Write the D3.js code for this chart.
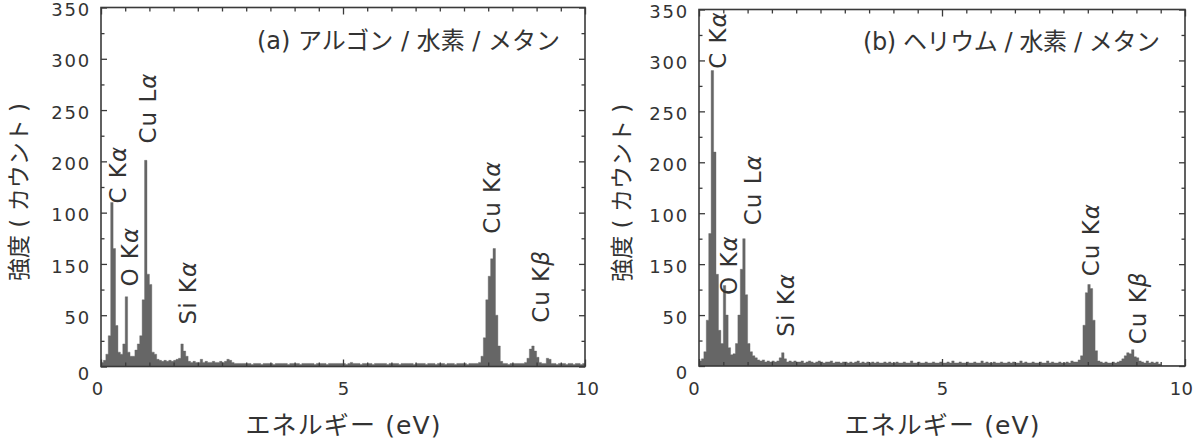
<!DOCTYPE html>
<html><head><meta charset="utf-8">
<script src="https://cdn.jsdelivr.net/npm/d3@7/dist/d3.min.js"></script>
<style>
body{margin:0;background:#fff;}
svg text{fill:#333333;font-family:"DejaVu Sans","Noto Sans CJK JP",sans-serif;}
</style></head><body>
<svg id="chart" width="1195" height="445"></svg>
<script>
// ---- data ----
const binWidth = 0.05; // eV per channel
const energyDomain = [0, 10];
const countDomain = [0, 350];

// (a) Ar / H2 / CH4 spectrum, counts per 0.05 eV channel starting at 0 eV
const countsA = [
  4, 6, 12, 30, 160, 115, 40, 14, 12, 22,
  68, 14, 10, 10, 16, 22, 30, 65, 201, 90,
  80, 14, 12, 7, 6, 5, 6, 5, 6, 5,
  6, 7, 8, 22, 15, 10, 5, 4, 5, 4,
  4, 7, 4, 5, 4, 4, 5, 4, 4, 5,
  4, 5, 7, 6, 4, 3, 3, 3, 3, 3,
  3, 3, 2, 3, 3, 3, 2, 3, 3, 3,
  3, 2, 3, 3, 3, 3, 3, 2, 3, 3,
  3, 3, 2, 3, 3, 3, 3, 3, 2, 3,
  3, 3, 3, 2, 3, 3, 3, 3, 3, 3,
  3, 2, 3, 4, 3, 3, 3, 2, 3, 3,
  3, 3, 2, 3, 3, 3, 3, 3, 2, 3,
  3, 3, 3, 2, 3, 3, 3, 3, 3, 2,
  3, 3, 3, 3, 2, 3, 3, 3, 2, 3,
  3, 3, 2, 3, 3, 3, 2, 3, 3, 3,
  3, 2, 3, 3, 3, 3, 4, 10, 28, 65,
  88, 105, 115, 50, 20, 5, 3, 3, 2, 3,
  3, 3, 3, 3, 3, 4, 8, 17, 20, 15,
  9, 4, 3, 3, 8, 7, 3, 3, 2, 3,
  3, 3, 2, 3, 3, 2, 3, 3, 2, 3
];

// (b) He / H2 / CH4 spectrum
const countsB = [
  5, 7, 14, 45, 130, 290, 210, 90, 35, 22,
  79, 50, 18, 11, 12, 22, 50, 95, 125, 70,
  22, 14, 10, 8, 6, 5, 6, 4, 5, 4,
  5, 4, 5, 8, 13, 7, 4, 5, 4, 5,
  4, 4, 5, 3, 4, 5, 4, 3, 4, 5,
  4, 3, 4, 4, 5, 3, 4, 4, 3, 4,
  4, 3, 4, 3, 4, 5, 3, 4, 3, 4,
  3, 4, 3, 4, 3, 3, 4, 3, 4, 3,
  3, 4, 3, 3, 4, 3, 3, 5, 3, 3,
  4, 3, 3, 4, 3, 3, 4, 3, 3, 4,
  3, 3, 4, 3, 5, 3, 3, 4, 3, 3,
  4, 3, 3, 4, 3, 3, 5, 3, 4, 3,
  3, 4, 3, 3, 4, 3, 3, 4, 3, 4,
  3, 3, 5, 3, 4, 3, 3, 4, 3, 3,
  4, 3, 3, 5, 3, 4, 3, 3, 4, 3,
  3, 4, 3, 5, 4, 4, 6, 10, 40, 72,
  80, 76, 45, 15, 5, 4, 3, 4, 3, 3,
  4, 3, 4, 5, 7, 10, 13, 12, 16, 9,
  8, 5, 4, 3, 5, 3, 4, 3, 4, 2,
  0, 0, 0, 0, 0, 0, 0, 0, 0, 0
];

const xTickValues = [0, 5, 10];
const xTickLabels = ["0", "5", "10"];
const yTickValues = [0, 50, 100, 150, 200, 250, 300, 350];
const yTickLabels = ["0", "50", "150", "100", "200", "250", "300", "350"];

const panelTitles = ["(a) アルゴン / 水素 / メタン", "(b) ヘリウム / 水素 / メタン"];
const xAxisTitle = "エネルギー (eV)";
const yAxisTitle = "強度 ( カウント )";

const peakLineNames = ["C K", "O K", "Cu L", "Si K", "Cu K", "Cu K"];
const peakLineGreek = ["α", "α", "α", "α", "α", "β"];
// label anchors in data units (energy eV, counts)
const peakLabelEnergyA = [0.35, 0.60, 0.97, 1.80, 8.08, 9.09];
const peakLabelCountA  = [187, 107, 252, 72, 165, 78];
const peakLabelEnergyB = [0.39, 0.62, 1.11, 1.79, 8.07, 9.03];
const peakLabelCountB  = [320, 99, 173, 60, 124, 57];

// ---- layout ----
const panels = [
  {counts: countsA, title: panelTitles[0], le: peakLabelEnergyA, lc: peakLabelCountA,
   left: 101, right: 585, top: 7.5, bottom: 366.5, titleX: 560, titleY: 41, titleLen: 303,
   yTitleX: 19, zeroDx: -4, lastDx: 2},
  {counts: countsB, title: panelTitles[1], le: peakLabelEnergyB, lc: peakLabelCountB,
   left: 699, right: 1185, top: 9.5, bottom: 366, titleX: 1160, titleY: 42, titleLen: 297,
   yTitleX: 622, zeroDx: -5.5, lastDx: -4}
];

const svg = d3.select("#chart");
const frameColor = "#3a3a3a";

panels.forEach((p, pi) => {
  const g = svg.append("g");
  const x = d3.scaleLinear().domain(energyDomain).range([p.left, p.right]);
  const y = d3.scaleLinear().domain(countDomain).range([p.bottom, p.top]);

  const clipId = "clip" + pi;
  g.append("clipPath").attr("id", clipId).append("rect")
    .attr("x", p.left).attr("y", p.top).attr("width", p.right - p.left).attr("height", p.bottom - p.top);

  const pts = p.counts.map((v, i) => ({e: i * binWidth, v}));
  pts.push({e: energyDomain[1], v: p.counts[p.counts.length - 1]});
  g.append("path").datum(pts)
    .attr("clip-path", `url(#${clipId})`)
    .attr("fill", "#666666")
    .attr("stroke", "#666666").attr("stroke-width", 0.4)
    .attr("d", d3.area().curve(d3.curveStepAfter)
      .x(d => x(d.e)).y0(y(0)).y1(d => y(d.v)));

  const xMinor = d3.range(0.5, 10, 0.5).filter(v => Math.abs(v - 5) > 1e-6);
  const yMinor = d3.range(25, 350, 50);

  function styleAxis(sel, spacing) {
    sel.select(".domain").remove();
    sel.selectAll("line").attr("stroke", frameColor).attr("stroke-width", 1.3);
    sel.selectAll("text").attr("font-size", 18).attr("font-family", null)
      .attr("letter-spacing", (spacing === undefined ? 1.8 : spacing) + "px");
  }

  // left axis with labels
  g.append("g").attr("transform", `translate(${p.left},0)`)
    .call(d3.axisLeft(y).tickValues(yTickValues).tickFormat((d, i) => yTickLabels[i])
      .tickSizeInner(-6).tickSizeOuter(0).tickPadding(10))
    .call(styleAxis)
    .call(s => s.selectAll("text").attr("dy", "0.45em"))
    .call(s => s.selectAll(".tick").filter(d => d === 0).select("text").attr("dy", "0.7em"));
  g.append("g").attr("transform", `translate(${p.left},0)`)
    .call(d3.axisLeft(y).tickValues(yMinor).tickFormat("").tickSizeInner(-3.5).tickSizeOuter(0))
    .call(styleAxis);
  // right axis ticks only
  g.append("g").attr("transform", `translate(${p.right},0)`)
    .call(d3.axisRight(y).tickValues(yTickValues).tickFormat("").tickSizeInner(-6).tickSizeOuter(0))
    .call(styleAxis);
  g.append("g").attr("transform", `translate(${p.right},0)`)
    .call(d3.axisRight(y).tickValues(yMinor).tickFormat("").tickSizeInner(-3.5).tickSizeOuter(0))
    .call(styleAxis);
  // bottom axis with labels
  g.append("g").attr("transform", `translate(0,${p.bottom})`)
    .call(d3.axisBottom(x).tickValues(xTickValues).tickFormat((d, i) => xTickLabels[i])
      .tickSizeInner(-7).tickSizeOuter(0).tickPadding(16))
    .call(s => styleAxis(s, 0.3))
    .call(s => s.selectAll(".tick").filter(d => d === 0).select("text").attr("dx", p.zeroDx))
    .call(s => s.selectAll(".tick").filter(d => d === 10).select("text").attr("dx", p.lastDx));
  g.append("g").attr("transform", `translate(0,${p.bottom})`)
    .call(d3.axisBottom(x).tickValues(xMinor).tickFormat("").tickSizeInner(-4).tickSizeOuter(0))
    .call(styleAxis);
  // top axis ticks only
  g.append("g").attr("transform", `translate(0,${p.top})`)
    .call(d3.axisTop(x).tickValues(xTickValues).tickFormat("").tickSizeInner(-7).tickSizeOuter(0))
    .call(styleAxis);
  g.append("g").attr("transform", `translate(0,${p.top})`)
    .call(d3.axisTop(x).tickValues(xMinor).tickFormat("").tickSizeInner(-4).tickSizeOuter(0))
    .call(styleAxis);

  // frame
  g.append("rect").attr("x", p.left).attr("y", p.top)
    .attr("width", p.right - p.left).attr("height", p.bottom - p.top)
    .attr("fill", "none").attr("stroke", frameColor).attr("stroke-width", 1.6);

  // panel title
  g.append("text").attr("x", p.titleX).attr("y", p.titleY)
    .attr("text-anchor", "end").attr("dominant-baseline", "central")
    .attr("font-size", 24).attr("textLength", p.titleLen).attr("lengthAdjust", "spacing")
    .text(p.title);

  // axis titles
  g.append("text").attr("x", (p.left + p.right) / 2).attr("y", 425)
    .attr("text-anchor", "middle").attr("dominant-baseline", "central")
    .attr("font-size", 25).attr("textLength", 195).attr("lengthAdjust", "spacing")
    .text(xAxisTitle);
  g.append("text")
    .attr("transform", `translate(${p.yTitleX},${(p.top + p.bottom) / 2 + 5}) rotate(-90)`)
    .attr("text-anchor", "middle").attr("dominant-baseline", "central")
    .attr("font-size", 23).text(yAxisTitle);

  // peak labels
  peakLineNames.forEach((nm, i) => {
    const t = g.append("text")
      .attr("transform", `translate(${x(p.le[i])},${y(p.lc[i])}) rotate(-90)`)
      .attr("text-anchor", "middle").attr("dominant-baseline", "central")
      .attr("font-size", 23).attr("letter-spacing", "1px");
    t.append("tspan").text(nm);
    t.append("tspan").attr("font-style", "italic").text(peakLineGreek[i]);
  });
});
</script>
</body></html>
